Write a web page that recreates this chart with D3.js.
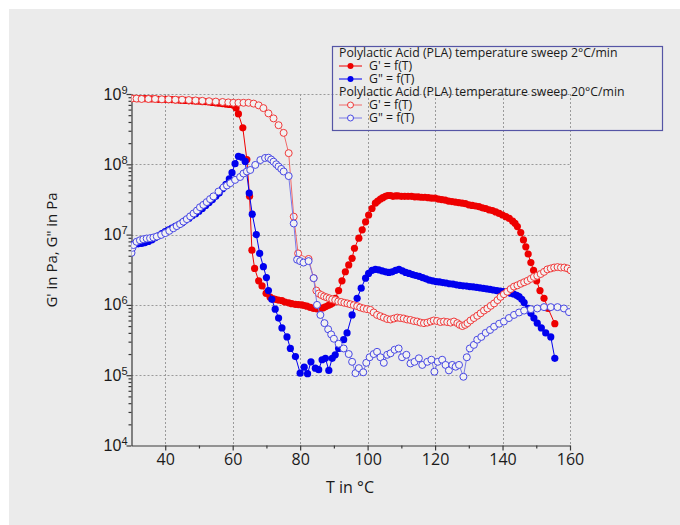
<!DOCTYPE html>
<html>
<head>
<meta charset="utf-8">
<script src="https://cdn.jsdelivr.net/npm/d3@7"></script>
<style>
  html, body { margin: 0; padding: 0; background: #fff; }
  svg { display: block; font-family: "Open Sans", "Noto Sans", sans-serif; }
</style>
</head>
<body>
<svg width="680" height="525"></svg>
<script>
(function () {
    'use strict';

    // [T in °C, modulus in Pa]
    // G' 2°C/min
    const gp2 = [
        [30, 8.7e8], [31, 8.7e8], [32, 8.6e8], [33, 8.6e8], [34, 8.6e8], [35, 8.5e8], [36, 8.5e8], [37, 8.5e8],
        [38, 8.4e8], [39, 8.4e8], [40, 8.4e8], [41, 8.3e8], [42, 8.3e8], [43, 8.2e8], [44, 8.2e8], [45, 8.1e8],
        [46, 8.1e8], [47, 8.0e8], [48, 8.0e8], [49, 7.9e8], [50, 7.9e8], [51, 7.8e8], [52, 7.8e8], [53, 7.7e8],
        [54, 7.6e8], [55, 7.5e8], [56, 7.4e8], [57, 7.3e8], [58, 7.2e8], [59, 7.1e8], [60.2, 6.9e8], [61.0, 6.3e8],
        [61.7, 5.2e8], [63.0, 3.3e8], [64.2, 1.17e8], [65.0, 3.5e7], [65.7, 6.0e6], [66.5, 3.3e6], [67.7, 2.2e6],
        [68.7, 1.86e6], [69.9, 1.46e6], [71.1, 1.29e6], [72.0, 1.22e6], [72.6, 1.2e6], [73.5, 1.17e6], [74.6, 1.15e6],
        [75.5, 1.1e6], [76.6, 1.07e6], [77.5, 1.04e6], [78.6, 1.02e6], [79.5, 1.01e6], [80.5, 1.0e6], [81.2, 9.8e5],
        [82.0, 9.6e5], [83.0, 9.2e5], [84.0, 8.9e5], [85.0, 8.8e5], [86.0, 8.9e5], [86.8, 9.1e5], [87.5, 9.4e5],
        [88.3, 9.8e5], [89.0, 1.02e6], [89.6, 1.06e6], [90.4, 1.24e6], [91.4, 1.6e6], [92.4, 2.2e6], [93.4, 2.96e6],
        [94.4, 3.7e6], [95.4, 4.6e6], [96.1, 6.4e6], [97.4, 8.9e6], [98.4, 1.17e7], [99.4, 1.52e7], [100.3, 1.9e7],
        [101.3, 2.35e7], [102.3, 2.8e7], [103.0, 3.0e7], [103.8, 3.2e7], [104.5, 3.35e7], [105.3, 3.5e7],
        [106.0, 3.6e7], [106.8, 3.6e7], [107.5, 3.5e7], [108.3, 3.55e7], [109, 3.55e7], [110, 3.5e7], [111, 3.5e7],
        [112, 3.5e7], [113, 3.5e7], [114, 3.45e7], [115, 3.45e7], [116, 3.4e7], [117, 3.4e7], [118, 3.35e7],
        [119, 3.3e7], [120, 3.3e7], [121, 3.2e7], [122, 3.15e7], [123, 3.1e7], [124, 3.0e7], [125, 2.95e7],
        [126, 2.9e7], [127, 2.85e7], [128, 2.8e7], [129, 2.75e7], [130, 2.65e7], [131, 2.6e7], [132, 2.55e7],
        [133, 2.5e7], [134, 2.4e7], [135, 2.35e7], [136, 2.25e7], [137, 2.2e7], [138, 2.1e7], [139, 2.0e7],
        [140, 1.9e7], [141, 1.8e7], [142, 1.7e7], [143, 1.55e7], [143.7, 1.45e7], [144.4, 1.3e7], [145.4, 1.07e7],
        [146.2, 8.4e6], [146.9, 6.7e6], [147.6, 5.3e6], [148.4, 4.0e6], [149.2, 3.1e6], [150.1, 2.2e6],
        [151.1, 1.6e6], [152.3, 1.24e6], [153.5, 8.9e5], [155.5, 5.4e5]
    ];

    // G'' 2°C/min
    const gpp2 = [
        [30, 7.2e6], [31, 7.3e6], [32, 7.4e6], [33, 7.5e6], [34, 7.7e6], [35, 8.0e6], [36, 8.4e6], [37, 9.0e6],
        [38, 9.6e6], [39, 1.03e7], [40, 1.1e7], [41, 1.17e7], [42, 1.24e7], [43, 1.31e7], [44, 1.39e7], [45, 1.48e7],
        [46, 1.6e7], [47, 1.7e7], [48, 1.85e7], [49, 1.98e7], [50, 2.15e7], [51, 2.35e7], [52, 2.6e7], [53, 2.85e7],
        [54, 3.15e7], [55, 3.5e7], [56, 3.9e7], [57, 4.5e7], [58, 5.2e7], [59, 6.2e7], [59.8, 7.6e7], [60.7, 1.02e8],
        [61.7, 1.3e8], [62.7, 1.26e8], [63.7, 1.1e8], [64.9, 3.9e7], [65.8, 1.95e7], [67.0, 1.0e7], [68.0, 5.4e6],
        [69.1, 3.5e6], [70.0, 2.45e6], [70.6, 1.6e6], [71.6, 1.2e6], [72.6, 8.7e5], [73.6, 6.5e5], [74.6, 4.7e5],
        [76.1, 3.5e5], [77.1, 2.4e5], [78.6, 1.84e5], [80.0, 1.07e5], [81.2, 1.3e5], [82.2, 1.05e5], [83.2, 1.55e5],
        [84.5, 1.26e5], [85.5, 1.2e5], [86.5, 1.66e5], [87.5, 1.74e5], [88.5, 1.17e5], [89.5, 1.74e5],
        [90.4, 1.95e5], [91.4, 2.4e5], [92.9, 3.2e5], [93.9, 4.0e5], [95.4, 7.2e5], [96.9, 1.24e6], [98.1, 1.73e6],
        [99.4, 2.4e6], [100.3, 2.8e6], [101.3, 3.1e6], [102.3, 3.2e6], [103.3, 3.15e6], [104.3, 3.05e6],
        [105.3, 2.95e6], [106.3, 2.9e6], [107.3, 2.95e6], [108.3, 3.1e6], [109.3, 3.2e6], [110.3, 3.05e6],
        [111.3, 2.9e6], [112.3, 2.8e6], [113.3, 2.7e6], [114.3, 2.62e6], [115.3, 2.55e6], [116.3, 2.45e6],
        [117.3, 2.35e6], [118.3, 2.25e6], [119.3, 2.2e6], [120.3, 2.15e6], [121.3, 2.12e6], [122.3, 2.08e6],
        [123.3, 2.05e6], [124.3, 2.0e6], [125.3, 1.98e6], [126.3, 1.93e6], [127.3, 1.9e6], [128.3, 1.87e6],
        [129.3, 1.85e6], [130.3, 1.82e6], [131.3, 1.8e6], [132.3, 1.78e6], [133.3, 1.75e6], [134.3, 1.72e6],
        [135.3, 1.69e6], [136.3, 1.66e6], [137.3, 1.63e6], [138.3, 1.6e6], [139.3, 1.57e6], [140.3, 1.54e6],
        [141.3, 1.5e6], [142.3, 1.47e6], [143.3, 1.43e6], [144.2, 1.37e6], [144.9, 1.31e6], [145.7, 1.2e6],
        [146.4, 1.08e6], [147.6, 8.9e5], [148.4, 7.6e5], [149.3, 6.5e5], [150.3, 5.5e5], [151.5, 4.7e5],
        [152.8, 4.0e5], [154.3, 3.5e5], [155.5, 1.74e5]
    ];

    // G' 20°C/min
    const gp20 = [
        [30, 8.6e8], [31.5, 8.6e8], [33, 8.5e8], [35, 8.5e8], [37, 8.5e8], [39, 8.4e8], [41, 8.4e8], [43, 8.3e8],
        [45, 8.3e8], [47, 8.2e8], [49, 8.1e8], [51, 8.0e8], [53, 7.9e8], [55, 7.8e8], [57, 7.7e8], [58.7, 7.6e8],
        [60.2, 7.5e8], [61.7, 7.5e8], [63.2, 7.5e8], [64.7, 7.5e8], [66.2, 7.3e8], [67.7, 6.9e8], [69.1, 6.3e8],
        [70.6, 5.3e8], [72.1, 4.5e8], [73.6, 3.6e8], [75.1, 2.8e8], [76.6, 1.44e8], [78.1, 1.8e7], [79.4, 5.4e6],
        [82.5, 4.5e6], [84.0, 2.4e6], [84.8, 1.6e6], [85.5, 1.45e6], [86.3, 1.38e6], [87.1, 1.32e6],
        [87.9, 1.28e6], [88.7, 1.24e6], [89.5, 1.2e6], [90.4, 1.17e6], [91.3, 1.12e6], [92.2, 1.1e6],
        [93.1, 1.07e6], [94.0, 1.05e6], [94.9, 1.02e6], [95.9, 9.9e5], [96.9, 9.6e5], [97.8, 9.2e5], [98.8, 8.9e5],
        [99.8, 8.7e5], [100.8, 8.5e5], [101.8, 7.8e5], [102.8, 7.2e5], [103.8, 6.9e5], [104.8, 6.6e5],
        [105.8, 6.3e5], [106.8, 6.2e5], [107.8, 6.4e5], [108.8, 6.6e5], [109.7, 6.5e5], [110.7, 6.4e5],
        [111.7, 6.2e5], [112.7, 6.1e5], [113.7, 5.9e5], [114.7, 5.8e5], [115.7, 5.6e5], [116.7, 5.5e5],
        [117.7, 5.6e5], [118.7, 5.8e5], [119.6, 6.0e5], [120.6, 5.9e5], [121.6, 5.7e5], [122.6, 5.8e5],
        [123.6, 5.7e5], [124.6, 5.6e5], [125.6, 5.8e5], [126.6, 5.5e5], [127.3, 5.2e5], [128.1, 5.0e5],
        [128.9, 5.2e5], [129.6, 5.5e5], [130.5, 6.0e5], [131.5, 6.5e5], [132.5, 7.0e5], [133.5, 7.6e5],
        [134.5, 8.3e5], [135.5, 8.9e5], [136.5, 9.7e5], [137.5, 1.05e6], [138.5, 1.17e6], [139.4, 1.3e6],
        [140.4, 1.42e6], [141.4, 1.54e6], [142.4, 1.68e6], [143.4, 1.82e6], [144.4, 1.9e6], [145.4, 2.0e6],
        [146.4, 2.1e6], [147.4, 2.2e6], [148.4, 2.35e6], [149.3, 2.5e6], [150.3, 2.6e6], [151.3, 2.75e6],
        [152.3, 2.95e6], [153.3, 3.2e6], [154.3, 3.3e6], [155.3, 3.4e6], [156.3, 3.45e6], [157.3, 3.4e6],
        [158.3, 3.4e6], [159.3, 3.3e6], [160.2, 3.1e6]
    ];

    // G'' 20°C/min
    const gpp20 = [
        [30, 5.5e6], [30.3, 6.5e6], [30.6, 7.1e6], [31.5, 7.9e6], [32.5, 8.3e6], [33.5, 8.6e6], [34.5, 8.8e6],
        [35.5, 8.9e6], [36.5, 9.1e6], [37.5, 9.4e6], [38.8, 9.9e6], [40, 1.05e7], [41.2, 1.13e7], [42.4, 1.23e7],
        [43.4, 1.32e7], [44.4, 1.41e7], [45.4, 1.53e7], [46.4, 1.66e7], [47.4, 1.82e7], [48.4, 2.0e7],
        [49.4, 2.2e7], [50.3, 2.45e7], [51.3, 2.65e7], [52.3, 2.9e7], [53.3, 3.2e7], [54.3, 3.5e7], [55.8, 4.1e7],
        [57.3, 4.7e7], [58.3, 5.0e7], [59.3, 5.4e7], [60.7, 6.0e7], [62.2, 6.6e7], [63.2, 7.4e7], [64.2, 7.9e7],
        [65.2, 8.3e7], [66.7, 9.8e7], [68.2, 1.15e8], [69.6, 1.23e8], [70.6, 1.24e8], [71.4, 1.17e8],
        [72.1, 1.09e8], [72.9, 1.0e8], [73.6, 9.3e7], [74.4, 8.6e7], [75.1, 7.9e7], [76.6, 6.8e7], [78.1, 1.44e7],
        [79.1, 4.4e6], [80.0, 4.2e6], [81.0, 4.0e6], [82.5, 4.2e6], [84.0, 2.4e6], [85.0, 1.0e6], [86.0, 7.2e5],
        [87.2, 5.5e5], [88.3, 4.5e5], [89.2, 3.8e5], [90.0, 3.3e5], [91.4, 2.8e5], [92.9, 2.4e5], [94.4, 2.0e5],
        [95.4, 1.55e5], [96.4, 1.07e5], [97.4, 1.26e5], [98.7, 1.1e5], [99.6, 1.5e5], [100.6, 1.8e5],
        [101.8, 2.0e5], [102.8, 2.15e5], [103.8, 1.8e5], [104.8, 1.5e5], [105.8, 1.95e5], [106.8, 2.05e5],
        [108.0, 2.3e5], [109.2, 2.4e5], [110.2, 1.8e5], [111.5, 1.95e5], [112.7, 1.47e5], [113.9, 1.55e5],
        [115.2, 1.74e5], [116.2, 1.4e5], [117.7, 1.55e5], [118.9, 1.66e5], [119.8, 1.12e5], [120.8, 1.55e5],
        [122.1, 1.66e5], [123.1, 1.4e5], [124.1, 1.17e5], [125.1, 1.4e5], [126.1, 1.32e5], [127.1, 1.4e5],
        [128.4, 9.5e4], [129.4, 1.8e5], [130.3, 2.4e5], [131.5, 2.7e5], [132.5, 3.2e5], [133.7, 3.5e5],
        [135.0, 4.0e5], [136.3, 4.4e5], [137.5, 4.9e5], [139.0, 5.4e5], [140.4, 5.8e5], [141.9, 6.5e5],
        [143.4, 7.2e5], [144.9, 7.8e5], [146.4, 8.3e5], [148.4, 8.7e5], [150.3, 8.9e5], [152.3, 9.3e5],
        [154.3, 9.3e5], [156.3, 9.3e5], [158.2, 8.9e5], [159.7, 7.9e5]
    ];

    const xTicks = [40, 60, 80, 100, 120, 140, 160];
    const xMinor = [50, 70, 90, 110, 130, 150];
    const yDecades = [1e4, 1e5, 1e6, 1e7, 1e8, 1e9];

    const legendTitles = [
        'Polylactic Acid (PLA) temperature sweep 2°C/min',
        'Polylactic Acid (PLA) temperature sweep 20°C/min'
    ];

    const series = [
        { data: gp2, name: "G' = f(T)", color: '#ee0000', line: '#ee0000', open: false, group: 0 },
        { data: gpp2, name: 'G" = f(T)', color: '#0000ee', line: '#0000ee', open: false, group: 0 },
        { data: gp20, name: "G' = f(T)", color: '#f03a3a', line: '#f06a6a', open: true, group: 1 },
        { data: gpp20, name: 'G" = f(T)', color: '#4848e4', line: '#7a7ae6', open: true, group: 1 }
    ];

    const width = 680;
    const height = 525;
    const bg = '#ebebeb';

    const svg = d3.select('svg').attr('viewBox', [0, 0, width, height]);

    svg.append('rect')
        .attr('x', 9).attr('y', 9)
        .attr('width', width - 9).attr('height', height - 9)
        .attr('fill', bg);

    const x = d3.scaleLinear().domain([30, 160]).range([131.5, 570]);
    const y = d3.scaleLog().domain([1e4, 1e9]).range([445.5, 94]);

    // grid
    const grid = svg.append('g').attr('class', 'grid')
        .attr('stroke', '#9a9a9a').attr('stroke-dasharray', '2,2').attr('stroke-width', 1);
    grid.selectAll('line.gx').data(xTicks).join('line')
        .attr('class', 'gx')
        .attr('x1', d => Math.round(x(d)) + 0.5).attr('x2', d => Math.round(x(d)) + 0.5)
        .attr('y1', y(1e9)).attr('y2', y(1e4));
    grid.selectAll('line.gy').data(yDecades.slice(1)).join('line')
        .attr('class', 'gy')
        .attr('y1', d => Math.round(y(d)) + 0.5).attr('y2', d => Math.round(y(d)) + 0.5)
        .attr('x1', x(30)).attr('x2', x(160));

    // axes
    const xAxis = svg.append('g')
        .attr('transform', `translate(0,${y(1e4)})`)
        .call(d3.axisBottom(x).tickValues(xTicks).tickSize(5).tickSizeOuter(0).tickPadding(3).tickFormat(d3.format('d')));
    svg.append('g')
        .attr('transform', `translate(0,${y(1e4)})`)
        .call(d3.axisBottom(x).tickValues(xMinor).tickSize(3).tickSizeOuter(0).tickFormat(''))
        .select('.domain').remove();
    xAxis.selectAll('text').attr('font-size', 16).attr('fill', '#1a1a1a')
        .attr('font-family', '"Open Sans", "Noto Sans", sans-serif');

    const yMinor = [];
    yDecades.slice(0, -1).forEach(dec => {
        [2, 3, 4, 5, 6, 7, 8, 9].forEach(m => yMinor.push(dec * m));
    });

    const yAxis = svg.append('g')
        .attr('transform', `translate(${x(30)},0)`)
        .call(d3.axisLeft(y).tickValues(yDecades).tickSize(5).tickSizeOuter(0).tickFormat(''));
    svg.append('g')
        .attr('transform', `translate(${x(30)},0)`)
        .call(d3.axisLeft(y).tickValues(yMinor).tickSize(3).tickSizeOuter(0).tickFormat(''))
        .select('.domain').remove();

    svg.selectAll('.domain, .tick line').attr('stroke', '#3a3a3a').attr('stroke-width', 1.2);

    const yLabels = yAxis.selectAll('.tick').append('text')
        .attr('x', -4).attr('y', 5)
        .attr('text-anchor', 'end')
        .attr('fill', '#1a1a1a')
        .attr('font-size', 16);
    yLabels.append('tspan').text('10');
    yLabels.append('tspan').attr('font-size', 11).attr('dy', -6)
        .text(d => String(Math.round(Math.log10(d))));

    // axis titles
    svg.append('text')
        .attr('x', 350).attr('y', 493)
        .attr('text-anchor', 'middle')
        .attr('font-size', 16).attr('fill', '#1a1a1a')
        .text('T in °C');
    svg.append('text')
        .attr('transform', 'translate(57,250) rotate(-90)')
        .attr('text-anchor', 'middle')
        .attr('font-size', 15).attr('fill', '#1a1a1a')
        .text('G\' in Pa, G" in Pa');

    // data
    svg.append('clipPath').attr('id', 'plot-clip')
        .append('rect')
        .attr('x', x(30)).attr('y', y(1e9) - 10)
        .attr('width', x(160) - x(30)).attr('height', y(1e4) - y(1e9) + 10);

    const plot = svg.append('g').attr('clip-path', 'url(#plot-clip)');
    const line = d3.line().x(d => x(d[0])).y(d => y(d[1]));

    series.forEach(s => {
        const g = plot.append('g');
        g.append('path')
            .attr('d', line(s.data))
            .attr('fill', 'none')
            .attr('stroke', s.line)
            .attr('stroke-width', 1);
        g.selectAll('circle').data(s.data).join('circle')
            .attr('cx', d => x(d[0]))
            .attr('cy', d => y(d[1]))
            .attr('r', s.open ? 3.5 : 3.6)
            .attr('fill', s.open ? '#f2f2f2' : s.color)
            .attr('stroke', s.color)
            .attr('stroke-width', s.open ? 1 : 0);
    });

    // legend
    const legend = svg.append('g').attr('font-size', 12.3).attr('fill', '#1a1a1a');
    legend.append('rect')
        .attr('x', 332.5).attr('y', 46.5)
        .attr('width', 330).attr('height', 84)
        .attr('fill', 'none')
        .attr('stroke', '#5555a5')
        .attr('stroke-width', 1.2);

    const rowY = [53, 66, 79, 92, 105, 118];
    legendTitles.forEach((t, i) => {
        legend.append('text')
            .attr('x', 339).attr('y', rowY[i * 3]).attr('dy', '0.35em')
            .text(t);
    });
    series.forEach((s, i) => {
        const cy = rowY[s.group * 3 + 1 + (i % 2)];
        legend.append('line')
            .attr('x1', 339).attr('x2', 362).attr('y1', cy).attr('y2', cy)
            .attr('stroke', s.line).attr('stroke-width', 1);
        legend.append('circle')
            .attr('cx', 350.5).attr('cy', cy).attr('r', 3)
            .attr('fill', s.open ? '#f2f2f2' : s.color)
            .attr('stroke', s.color)
            .attr('stroke-width', s.open ? 1 : 0);
        legend.append('text')
            .attr('x', 369).attr('y', cy).attr('dy', '0.35em')
            .text(s.name);
    });
})();
</script>
</body>
</html>
